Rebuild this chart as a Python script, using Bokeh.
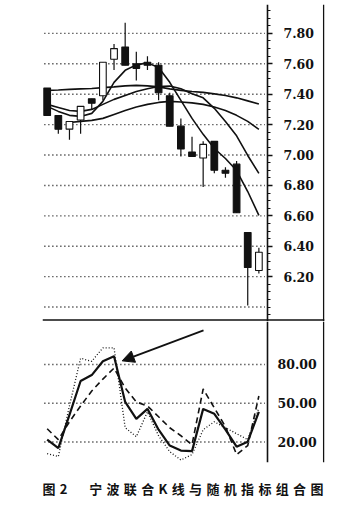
import math
import numpy as np
from bokeh.plotting import figure
from bokeh.layouts import column
from bokeh.models import (ColumnDataSource, LinearAxis, FixedTicker, NumeralTickFormatter,
                          Range1d, Span, Arrow, NormalHead, Title)
from bokeh.embed import file_html
from bokeh.resources import INLINE

nan = float("nan")

# ---------------- data ----------------
day = list(range(20))
open_ = [7.44, 7.26, 7.17, 7.23, 7.37, 7.39, 7.63, 7.71, 7.60, 7.61,
         7.59, 7.39, 7.19, 7.02, 6.98, 7.09, 6.90, 6.94, 6.49, 6.24]
high = [7.44, 7.26, 7.22, 7.32, 7.37, 7.61, 7.73, 7.87, 7.68, 7.65,
        7.61, 7.41, 7.24, 7.12, 7.09, 7.09, 6.92, 6.96, 6.49, 6.39]
low = [7.26, 7.14, 7.10, 7.14, 7.30, 7.36, 7.56, 7.59, 7.49, 7.56,
       7.36, 7.19, 6.99, 6.99, 6.79, 6.88, 6.85, 6.62, 6.01, 6.22]
close = [7.26, 7.17, 7.22, 7.32, 7.34, 7.61, 7.70, 7.59, 7.57, 7.59,
         7.41, 7.19, 7.04, 6.99, 7.07, 6.90, 6.88, 6.62, 6.26, 6.36]

ma5 = [7.320, 7.287, 7.261, 7.254, 7.274, 7.353, 7.478, 7.557, 7.593, 7.606,
       7.576, 7.478, 7.359, 7.241, 7.136, 7.043, 6.977, 6.898, 6.760, 6.603]
ma10 = [7.333, 7.313, 7.293, 7.287, 7.300, 7.333, 7.366, 7.392, 7.418, 7.436,
        7.451, 7.454, 7.436, 7.403, 7.376, 7.307, 7.221, 7.126, 6.997, 6.879]
ma20 = [nan, nan, 7.214, 7.221, 7.228, 7.241, 7.267, 7.293, 7.316, 7.333,
        7.346, 7.353, 7.349, 7.343, 7.333, 7.316, 7.293, 7.261, 7.221, 7.168]
ma30 = [7.425, 7.428, 7.432, 7.435, 7.438, 7.443, 7.448, 7.455, 7.458, 7.455,
        7.448, 7.435, 7.425, 7.418, 7.412, 7.402, 7.392, 7.376, 7.356, 7.336]

k_line = [21.8, 15.2, 41.0, 67.2, 71.8, 82.5, 86.4, 51.0, 37.9, 45.6,
          29.5, 17.2, 13.3, 12.9, 45.6, 41.8, 29.5, 16.3, 20.2, 43.3]
d_line = [30.2, 21.8, 35.6, 47.9, 59.5, 68.7, 77.2, 61.8, 51.0, 47.9,
          39.5, 31.0, 24.8, 17.9, 61.0, 46.4, 31.8, 10.2, 17.2, 55.6]
j_line = [11.0, 8.7, 48.0, 84.8, 82.5, 92.9, 92.9, 31.0, 24.1, 43.3,
          24.8, 12.5, 6.0, 10.2, 29.5, 35.6, 31.0, 26.4, 21.8, 46.4]

price_ticks = [6.2, 6.4, 6.6, 6.8, 7.0, 7.2, 7.4, 7.6, 7.8]
price_grid = [6.0] + price_ticks
kdj_ticks = [20, 50, 80]
SP = "\u2004"
caption = "图" + SP + "2" + "\u3000" + SP * 2 + SP.join("宁波联合K线与随机指标组合图")

# ---------------- layout constants ----------------
INK = "#111111"
XR = (-0.42, 24.89)
AXIS_X = 19.774
BORDER_X = 24.82
GRID_X0, GRID_X1 = -0.25, 19.55
TICK_FONT = "DejaVu Serif"

src = ColumnDataSource(dict(
    day=day, open=open_, high=high, low=low, close=close,
    top=[max(o, c) for o, c in zip(open_, close)],
    bottom=[min(o, c) for o, c in zip(open_, close)],
    fill=["white" if c > o else INK for o, c in zip(open_, close)],
    ma5=ma5, ma10=ma10, ma20=ma20, ma30=ma30,
))

# ---------------- top panel: candles ----------------
p1 = figure(width=353, height=321, x_range=Range1d(*XR), y_range=Range1d(5.905, 7.99),
            x_axis_type=None, y_axis_type=None, output_backend="svg", toolbar_location=None,
            min_border_left=42, min_border_right=29, min_border_top=4, min_border_bottom=0)
p1.outline_line_color = None
p1.background_fill_color = "white"
p1.border_fill_color = "white"

p1.segment(x0=[GRID_X0] * len(price_grid), x1=[GRID_X1] * len(price_grid),
           y0=price_grid, y1=price_grid, line_color=INK, line_width=1.4, line_dash="1 3")

for col in ["ma30", "ma20", "ma10", "ma5"]:
    p1.line("day", col, source=src, line_color=INK, line_width=1.6)

p1.segment("day", "high", "day", "low", source=src, line_color=INK, line_width=1.2)
p1.vbar(x="day", top="top", bottom="bottom", width=0.6, source=src,
        fill_color="fill", line_color=INK, line_width=1.1)

minor = [round(v, 2) for v in np.arange(5.95, 7.99, 0.05) if round(v, 2) not in price_ticks]
ax1 = LinearAxis(fixed_location=AXIS_X,
                 ticker=FixedTicker(ticks=price_ticks, minor_ticks=minor),
                 formatter=NumeralTickFormatter(format="0.00"),
                 major_tick_in=0, major_tick_out=5, minor_tick_in=0, minor_tick_out=3,
                 major_label_standoff=11, axis_line_width=1.6, axis_line_color=INK,
                 major_tick_line_width=1.3, minor_tick_line_width=1.2,
                 major_tick_line_color=INK, minor_tick_line_color=INK,
                 major_label_text_font=TICK_FONT, major_label_text_font_size="12.5px",
                 major_label_text_font_style="bold", major_label_text_color=INK)
p1.add_layout(ax1, "right")
p1.add_layout(Span(location=5.915, dimension="width", line_color=INK, line_width=1.5))
p1.add_layout(Span(location=BORDER_X, dimension="height", line_color=INK, line_width=1.5))

# ---------------- bottom panel: stochastic ----------------
ksrc = ColumnDataSource(dict(day=day, k=k_line, d=d_line, j=j_line))
p2 = figure(width=353, height=190, x_range=p1.x_range, y_range=Range1d(4.07, 113.3),
            x_axis_type=None, y_axis_type=None, output_backend="svg", toolbar_location=None,
            min_border_left=42, min_border_right=29, min_border_top=0, min_border_bottom=0)
p2.outline_line_color = None
p2.segment(x0=[GRID_X0] * 3, x1=[GRID_X1] * 3, y0=kdj_ticks, y1=kdj_ticks,
           line_color=INK, line_width=1.4, line_dash="1 3")
p2.line("day", "j", source=ksrc, line_color=INK, line_width=1.3, line_dash="1 2")
p2.line("day", "d", source=ksrc, line_color=INK, line_width=1.6, line_dash="6 4")
p2.line("day", "k", source=ksrc, line_color=INK, line_width=2.2)

ax2 = LinearAxis(fixed_location=AXIS_X, ticker=FixedTicker(ticks=kdj_ticks),
                 formatter=NumeralTickFormatter(format="0.00"),
                 major_tick_in=0, major_tick_out=0, minor_tick_in=0, minor_tick_out=0,
                 major_label_standoff=10, axis_line_width=1.6, axis_line_color=INK,
                 major_label_text_font=TICK_FONT, major_label_text_font_size="12.5px",
                 major_label_text_font_style="bold", major_label_text_color=INK)
p2.add_layout(ax2, "right")
p2.add_layout(Span(location=BORDER_X, dimension="height", line_color=INK, line_width=1.5))

p2.add_layout(Arrow(end=NormalHead(size=12, fill_color=INK, line_color=INK),
                    x_start=14.03, y_start=106.4, x_end=6.73, y_end=82.8,
                    line_color=INK, line_width=1.8))

p2.add_layout(Title(text=caption, align="left", offset=0, standoff=28,
                    text_font="Noto Sans CJK SC", text_font_size="13px",
                    text_font_style="bold", text_color=INK), "below")

layout = column(p1, p2, spacing=0)
open("out.html", "w").write(file_html(layout, INLINE))
